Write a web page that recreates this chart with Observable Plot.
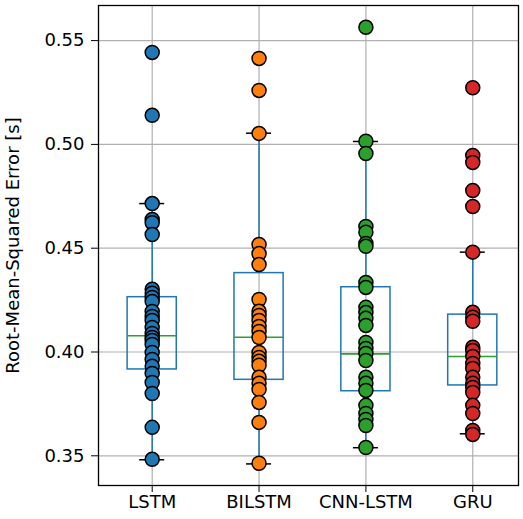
<!DOCTYPE html>
<html>
<head>
<meta charset="utf-8">
<script src="https://cdn.jsdelivr.net/npm/d3@7"></script>
<script src="https://cdn.jsdelivr.net/npm/@observablehq/plot@0.6"></script>
<style>
  html, body { margin: 0; padding: 0; background: #fff; }
</style>
</head>
<body>
<div id="chart"></div>
<script>
const models = ["LSTM", "BILSTM", "CNN-LSTM", "GRU"];
const colors = ["#1f77b4", "#ff7f0e", "#2ca02c", "#d62728"];
const yTicks = [0.35, 0.40, 0.45, 0.50, 0.55];

const lstm = [0.5443, 0.5140, 0.4715, 0.4638, 0.4623, 0.4566, 0.4302, 0.4283, 0.4263, 0.4243,
  0.4195, 0.4171, 0.4152, 0.4118, 0.4089, 0.4070, 0.4056, 0.4036, 0.3998, 0.3964,
  0.3931, 0.3897, 0.3853, 0.3800, 0.3637, 0.3483];
const bilstm = [0.5414, 0.5260, 0.5053, 0.4518, 0.4474, 0.4421, 0.4253, 0.4196, 0.4176, 0.4152,
  0.4123, 0.4099, 0.4070, 0.3998, 0.3974, 0.3955, 0.3936, 0.3878, 0.3849, 0.3820,
  0.3757, 0.3661, 0.3464];
const cnnlstm = [0.5564, 0.5015, 0.4956, 0.4605, 0.4577, 0.4523, 0.4509, 0.4335, 0.4311, 0.4215,
  0.4190, 0.4162, 0.4128, 0.4046, 0.4017, 0.3993, 0.3959, 0.3878, 0.3849, 0.3815,
  0.3743, 0.3704, 0.3675, 0.3646, 0.3540];
const gru = [0.5273, 0.4947, 0.4913, 0.4778, 0.4701, 0.4481, 0.4191, 0.4167, 0.4148, 0.4023,
  0.4007, 0.3978, 0.3945, 0.3921, 0.3878, 0.3849, 0.3829, 0.3805, 0.3743, 0.3704,
  0.3622, 0.3603];

// box statistics
const q1 = [0.3916, 0.3866, 0.3811, 0.3839];
const median = [0.4078, 0.4071, 0.3991, 0.3978];
const q3 = [0.4264, 0.4380, 0.4312, 0.4180];
const whiskerLo = [0.3481, 0.3461, 0.3539, 0.3606];
const whiskerHi = [0.4715, 0.5054, 0.5014, 0.4481];

const series = [lstm, bilstm, cnnlstm, gru];
const points = series.flatMap((vals, i) => vals.map(v => ({pos: i + 1, value: v, model: models[i]})));
const stats = models.map((m, i) => ({
  pos: i + 1, model: m, q1: q1[i], median: median[i], q3: q3[i], lo: whiskerLo[i], hi: whiskerHi[i]
}));

const boxHalf = 0.23;
const capHalf = 0.117;
const blue = "#1f77b4";

const chart = Plot.plot({
  width: 523,
  height: 519,
  marginLeft: 98,
  marginRight: 5,
  marginTop: 5,
  marginBottom: 34,
  style: {fontFamily: "DejaVu Sans", fontSize: "18px", color: "#000", background: "#fff"},
  x: {type: "linear", domain: [0.4975, 4.428]},
  y: {domain: [0.3357, 0.5669]},
  color: {domain: models, range: colors},
  marks: [
    Plot.gridY(yTicks, {stroke: "#b0b0b0", strokeOpacity: 1, strokeWidth: 1.2}),
    Plot.gridX([1, 2, 3, 4], {stroke: "#b0b0b0", strokeOpacity: 1, strokeWidth: 1.2}),
    Plot.ruleX(stats, {x: "pos", y1: "q3", y2: "hi", stroke: blue, strokeWidth: 1.5}),
    Plot.ruleX(stats, {x: "pos", y1: "lo", y2: "q1", stroke: blue, strokeWidth: 1.5}),
    Plot.rect(stats, {x1: d => d.pos - boxHalf, x2: d => d.pos + boxHalf, y1: "q1", y2: "q3", fill: "none", stroke: blue, strokeWidth: 1.5}),
    Plot.ruleY(stats, {y: "median", x1: d => d.pos - boxHalf, x2: d => d.pos + boxHalf, stroke: "#2ca02c", strokeWidth: 1.6}),
    Plot.ruleY(stats, {y: "hi", x1: d => d.pos - capHalf, x2: d => d.pos + capHalf, stroke: "#000", strokeWidth: 1.5}),
    Plot.ruleY(stats, {y: "lo", x1: d => d.pos - capHalf, x2: d => d.pos + capHalf, stroke: "#000", strokeWidth: 1.5}),
    Plot.dot(points, {x: "pos", y: "value", r: 7, fill: "model", stroke: "#000", strokeWidth: 1.5, fillOpacity: 1}),
    Plot.frame({stroke: "#000", strokeWidth: 1.3}),
    Plot.axisY(yTicks, {
      tickFormat: d => d.toFixed(2), tickSize: 7, tickPadding: 7,
      label: "Root-Mean-Squared Error [s]", labelAnchor: "center", labelArrow: "none", labelOffset: 92
    }),
    Plot.axisX([1, 2, 3, 4], {
      tickFormat: d => models[d - 1], tickSize: 7, tickPadding: 3, label: null
    })
  ]
});
document.getElementById("chart").appendChild(chart);
</script>
</body>
</html>
